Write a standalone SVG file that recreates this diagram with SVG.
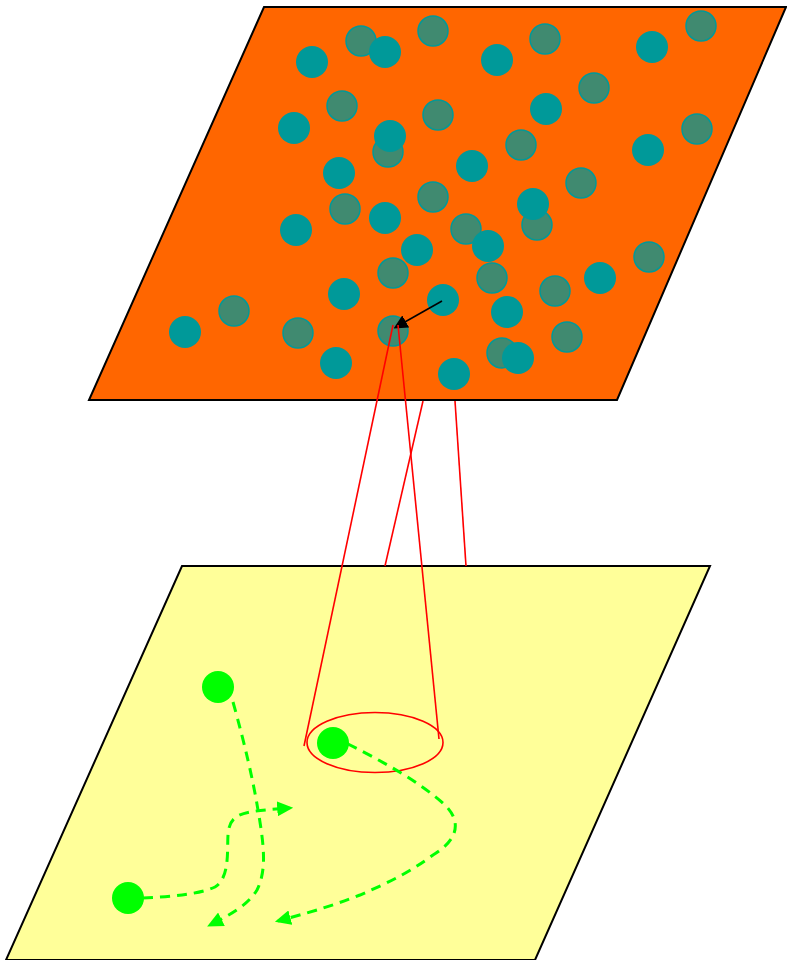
<svg xmlns="http://www.w3.org/2000/svg" width="787" height="960" viewBox="0 0 787 960">
<style>
.plane{stroke:#000;stroke-width:2;stroke-linejoin:miter}
.t{fill:#009999}
.g{fill:#408a70;stroke:#009999;stroke-width:1.5}
.red{stroke:#ff0000;stroke-width:1.6;fill:none}
.gp{stroke:#00ff00;stroke-width:3;fill:none;stroke-dasharray:10,7}
.dot{fill:#00ff00}
</style>
<defs>
<marker id="ga" viewBox="0 0 10 10" refX="8" refY="5" markerWidth="16" markerHeight="15" markerUnits="userSpaceOnUse" orient="auto" preserveAspectRatio="none">
<path d="M0,0 L10,5 L0,10 z" fill="#00ff00" stroke="none"/>
</marker>
<marker id="ba" viewBox="0 0 10 10" refX="8" refY="5" markerWidth="14" markerHeight="14" markerUnits="userSpaceOnUse" orient="auto">
<path d="M0,0 L10,5 L0,10 z" fill="#000" stroke="none"/>
</marker>
</defs>
<g id="top-plane">
<polygon class="plane" points="264,7 786,7 617,400 89,400" fill="#ff6600"/>
</g>
<g id="particles-gray">
<circle class="g" cx="361" cy="41" r="15"/>
<circle class="g" cx="433" cy="31" r="15"/>
<circle class="g" cx="545" cy="39" r="15"/>
<circle class="g" cx="701" cy="26" r="15"/>
<circle class="g" cx="342" cy="106" r="15"/>
<circle class="g" cx="438" cy="115" r="15"/>
<circle class="g" cx="594" cy="88" r="15"/>
<circle class="g" cx="388" cy="152" r="15"/>
<circle class="g" cx="521" cy="145" r="15"/>
<circle class="g" cx="697" cy="129" r="15"/>
<circle class="g" cx="433" cy="197" r="15"/>
<circle class="g" cx="581" cy="183" r="15"/>
<circle class="g" cx="345" cy="209" r="15"/>
<circle class="g" cx="466" cy="229" r="15"/>
<circle class="g" cx="537" cy="225" r="15"/>
<circle class="g" cx="393" cy="273" r="15"/>
<circle class="g" cx="492" cy="278" r="15"/>
<circle class="g" cx="649" cy="257" r="15"/>
<circle class="g" cx="234" cy="311" r="15"/>
<circle class="g" cx="298" cy="333" r="15"/>
<circle class="g" cx="393" cy="331" r="15"/>
<circle class="g" cx="555" cy="291" r="15"/>
<circle class="g" cx="567" cy="337" r="15"/>
<circle class="g" cx="502" cy="353" r="15"/>
</g>
<g id="particles-teal">
<circle class="t" cx="312" cy="62" r="16"/>
<circle class="t" cx="385" cy="52" r="16"/>
<circle class="t" cx="497" cy="60" r="16"/>
<circle class="t" cx="652" cy="47" r="16"/>
<circle class="t" cx="294" cy="128" r="16"/>
<circle class="t" cx="390" cy="136" r="16"/>
<circle class="t" cx="546" cy="109" r="16"/>
<circle class="t" cx="339" cy="173" r="16"/>
<circle class="t" cx="472" cy="166" r="16"/>
<circle class="t" cx="648" cy="150" r="16"/>
<circle class="t" cx="296" cy="230" r="16"/>
<circle class="t" cx="385" cy="218" r="16"/>
<circle class="t" cx="533" cy="204" r="16"/>
<circle class="t" cx="417" cy="250" r="16"/>
<circle class="t" cx="488" cy="246" r="16"/>
<circle class="t" cx="344" cy="294" r="16"/>
<circle class="t" cx="443" cy="300" r="16"/>
<circle class="t" cx="600" cy="278" r="16"/>
<circle class="t" cx="185" cy="332" r="16"/>
<circle class="t" cx="507" cy="312" r="16"/>
<circle class="t" cx="336" cy="363" r="16"/>
<circle class="t" cx="454" cy="374" r="16"/>
<circle class="t" cx="518" cy="358" r="16"/>
</g>
<g id="bottom-plane">
<polygon class="plane" points="182,566 710,566 535,960 6,960" fill="#ffff99"/>
</g>
<g id="green-particles">
<circle class="dot" cx="218" cy="687" r="16"/>
<circle class="dot" cx="333" cy="743" r="16"/>
<circle class="dot" cx="128" cy="898" r="16"/>
</g>
<g id="connectors">
<line x1="442" y1="301" x2="396" y2="327" stroke="#000" stroke-width="1.6" marker-end="url(#ba)"/>
<line class="red" x1="393" y1="325" x2="304" y2="746"/>
<line class="red" x1="398" y1="325" x2="439" y2="739"/>
<line class="red" x1="423" y1="401" x2="385" y2="566"/>
<line class="red" x1="455" y1="401" x2="466" y2="566"/>
<ellipse class="red" cx="375" cy="742.5" rx="68" ry="30"/>
<path class="gp" d="M233,702 C245,745 253,780 258,810 C264,845 267,870 257,890 C248,905 230,915 210,925" marker-end="url(#ga)"/>
<path class="gp" d="M143,898 C170,897 200,894 215,887 C230,878 227,850 228,835 C229,820 235,815 250,812 C262,810 275,809 290,808" marker-end="url(#ga)"/>
<path class="gp" d="M348,744 C380,760 420,782 445,805 C462,822 458,840 433,855 C410,872 390,882 360,895 C330,907 300,915 278,921" marker-end="url(#ga)"/>
</g>
</svg>
